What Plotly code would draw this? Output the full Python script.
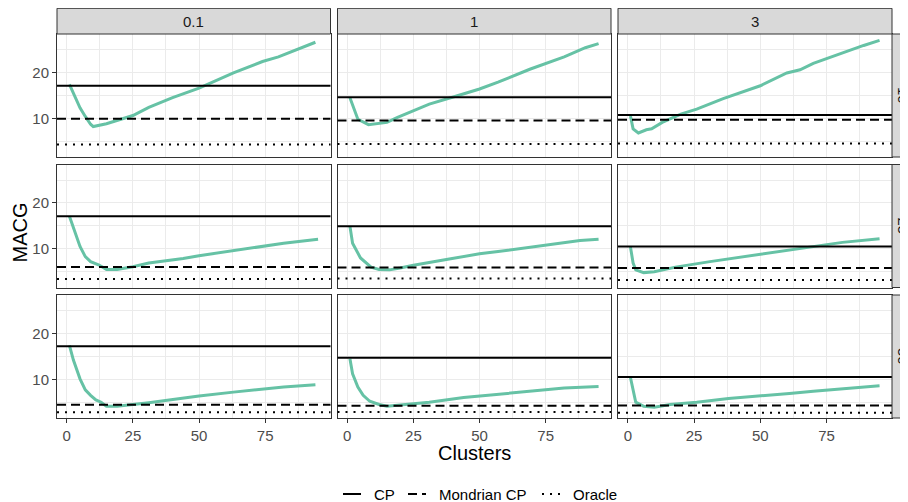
import plotly.graph_objects as go

# ---------------- data ----------------
col_labels = ["0.1", "1", "3"]
row_labels = ["10", "25", "50"]
x_ticks = [0, 25, 50, 75]
x_minor = [12.5, 37.5, 62.5, 87.5]
y_ticks = [10, 20]
y_minor = [5, 15, 25]

# clustered curves (MACG vs number of clusters), row = 10/25/50, col = 0.1/1/3
x_10_01 = [1, 3, 5, 7, 9, 10, 15, 25, 31, 40, 50, 63, 74, 80, 94]
y_10_01 = [17.4, 15.0, 12.3, 10.4, 8.7, 8.2, 8.8, 10.6, 12.4, 14.5, 16.6, 19.9, 22.4, 23.4, 26.6]
x_10_1 = [1, 4, 8, 15, 19, 31, 41, 50, 57, 69, 82, 90, 95]
y_10_1 = [14.5, 9.8, 8.6, 9.1, 10.2, 13.1, 14.8, 16.4, 17.9, 20.7, 23.4, 25.4, 26.3]
x_10_3 = [1, 2, 4, 7, 9, 13, 20, 26, 36, 50, 60, 65, 70, 80, 89, 95]
y_10_3 = [10.5, 7.7, 6.8, 7.5, 7.7, 9.1, 10.9, 12.0, 14.3, 17.1, 19.9, 20.6, 22.0, 24.1, 25.9, 27.0]

x_25_01 = [1, 3, 5, 7, 9, 12, 15, 19, 25, 31, 38, 44, 50, 63, 75, 82, 95]
y_25_01 = [17.1, 13.8, 10.5, 8.3, 7.2, 6.5, 5.5, 5.5, 6.1, 6.9, 7.4, 7.9, 8.5, 9.6, 10.7, 11.2, 12.1]
x_25_1 = [1, 2, 5, 9, 12, 16, 20, 25, 38, 50, 57, 66, 76, 88, 95]
y_25_1 = [14.9, 11.2, 8.0, 6.0, 5.5, 5.4, 5.8, 6.4, 7.7, 8.9, 9.4, 10.1, 10.9, 11.8, 12.1]
x_25_3 = [1, 2, 3, 6, 10, 18, 31, 44, 56, 69, 81, 95]
y_25_3 = [10.4, 6.9, 5.4, 4.8, 5.0, 6.0, 7.2, 8.3, 9.4, 10.4, 11.4, 12.2]

x_50_01 = [1, 2.5, 5, 7, 9, 11, 13, 15, 19, 25, 31, 38, 50, 63, 75, 82, 94]
y_50_01 = [17.4, 14.2, 10.1, 7.7, 6.5, 5.5, 5.0, 4.1, 4.1, 4.45, 4.9, 5.4, 6.35, 7.2, 7.9, 8.3, 8.8]
x_50_1 = [1, 2, 4, 6, 8.5, 12, 15, 19, 31, 44, 57, 69, 82, 95]
y_50_1 = [14.5, 11.2, 8.3, 6.5, 5.2, 4.5, 4.1, 4.3, 5.0, 6.0, 6.7, 7.4, 8.1, 8.4]
x_50_3 = [1, 2, 3, 6, 10, 16, 26, 38, 55, 61, 70, 83, 95]
y_50_3 = [10.4, 7.6, 5.0, 4.1, 3.9, 4.5, 5.0, 5.8, 6.5, 6.9, 7.4, 8.0, 8.6]

# reference levels per row (columns 0.1, 1, 3)
cp_10 = [17.1, 14.6, 10.7]
cp_25 = [17.1, 14.9, 10.5]
cp_50 = [17.2, 14.7, 10.5]
mondrian_10 = [9.9, 9.5, 9.7]
mondrian_25 = [6.05, 5.9, 5.8]
mondrian_50 = [4.45, 4.2, 4.3]
oracle_10 = [4.3, 4.4, 4.5]
oracle_25 = [3.4, 3.5, 3.2]
oracle_50 = [2.8, 2.85, 2.7]

legend_labels = ["CP", "Mondrian CP", "Oracle"]

# ---------------- layout helpers ----------------
curves = [
    [(x_10_01, y_10_01), (x_10_1, y_10_1), (x_10_3, y_10_3)],
    [(x_25_01, y_25_01), (x_25_1, y_25_1), (x_25_3, y_25_3)],
    [(x_50_01, y_50_01), (x_50_1, y_50_1), (x_50_3, y_50_3)],
]
cps = [cp_10, cp_25, cp_50]
mons = [mondrian_10, mondrian_25, mondrian_50]
oras = [oracle_10, oracle_25, oracle_50]

# the page body has an 8px margin, so the figure is 8px smaller and all
# window-pixel positions are shifted by that offset
OFF = 8
W, H = 908 - OFF, 502 - OFF
COL_PX = [(57, 330.5), (337.5, 611), (618, 892)]
ROW_PX = [(34, 157), (164.5, 287.5), (295, 418)]
STRIP_TOP = 8.3
RSTRIP = (892, 915)
XR = [-3.7, 99.7]
YR = [1.55, 28.4]
GREEN = "#66C2A5"
FONT = "Liberation Sans, Arial, sans-serif"
DASH = "9px,5px"
DOT = "2px,6px"


def px(x):
    return (x - OFF) / W


def py(y):
    return 1 - (y - OFF) / H


fig = go.Figure()
shapes = []
annotations = []
layout = {}

for r in range(3):
    for c in range(3):
        k = r * 3 + c + 1
        xs = "x" if k == 1 else f"x{k}"
        ys = "y" if k == 1 else f"y{k}"
        xa = "xaxis" if k == 1 else f"xaxis{k}"
        ya = "yaxis" if k == 1 else f"yaxis{k}"
        x0, x1 = COL_PX[c]
        t0, t1 = ROW_PX[r]
        bottom = r == 2
        left = c == 0
        layout[xa] = dict(
            domain=[px(x0), px(x1)], anchor=ys, range=XR,
            tickvals=x_ticks, ticktext=[str(v) for v in x_ticks],
            showticklabels=bottom, ticks="outside" if bottom else "",
            ticklen=4, tickwidth=1, tickcolor="#333333",
            tickfont=dict(family=FONT, size=15, color="#4D4D4D"),
            showgrid=True, gridcolor="#EBEBEB", gridwidth=1.1,
            minor=dict(tickvals=x_minor, showgrid=True, gridcolor="#EBEBEB", gridwidth=0.55),
            zeroline=False, showline=True, linecolor="#333333", linewidth=1, mirror=True,
        )
        layout[ya] = dict(
            domain=[py(t1), py(t0)], anchor=xs, range=YR,
            tickvals=y_ticks, ticktext=[str(v) for v in y_ticks],
            showticklabels=left, ticks="outside" if left else "",
            ticklen=4, tickwidth=1, tickcolor="#333333",
            tickfont=dict(family=FONT, size=15, color="#4D4D4D"),
            showgrid=True, gridcolor="#EBEBEB", gridwidth=1.1,
            minor=dict(tickvals=y_minor, showgrid=True, gridcolor="#EBEBEB", gridwidth=0.55),
            zeroline=False, showline=True, linecolor="#333333", linewidth=1, mirror=True,
        )
        # reference lines
        for val, dash in ((cps[r][c], "solid"), (mons[r][c], DASH), (oras[r][c], DOT)):
            shapes.append(dict(type="line", xref=f"{xs} domain", yref=ys, x0=0, x1=1,
                               y0=val, y1=val, line=dict(color="black", width=2, dash=dash),
                               layer="above"))
        cx, cy = curves[r][c]
        fig.add_trace(go.Scatter(x=cx, y=cy, xaxis=xs, yaxis=ys, mode="lines",
                                 line=dict(color=GREEN, width=3), showlegend=False,
                                 hoverinfo="skip"))

# strips
for c in range(3):
    x0, x1 = COL_PX[c]
    shapes.append(dict(type="rect", xref="paper", yref="paper", x0=px(x0), x1=px(x1),
                       y0=py(ROW_PX[0][0]), y1=py(STRIP_TOP), fillcolor="#D9D9D9",
                       line=dict(color="#333333", width=1)))
    annotations.append(dict(text=col_labels[c], xref="paper", yref="paper",
                            x=px((x0 + x1) / 2), y=py((STRIP_TOP + ROW_PX[0][0]) / 2),
                            showarrow=False, xanchor="center", yanchor="middle",
                            font=dict(family=FONT, size=15, color="#1A1A1A")))
for r in range(3):
    t0, t1 = ROW_PX[r]
    shapes.append(dict(type="rect", xref="paper", yref="paper", x0=px(RSTRIP[0]), x1=px(RSTRIP[1]),
                       y0=py(t1), y1=py(t0), fillcolor="#D9D9D9",
                       line=dict(color="#333333", width=1)))
    annotations.append(dict(text=row_labels[r], xref="paper", yref="paper",
                            x=px((RSTRIP[0] + RSTRIP[1]) / 2), y=py((t0 + t1) / 2),
                            showarrow=False, xanchor="center", yanchor="middle", textangle=90,
                            font=dict(family=FONT, size=15, color="#1A1A1A")))

# axis titles
annotations.append(dict(text="Clusters", xref="paper", yref="paper", x=px(474.5), y=py(453),
                        showarrow=False, xanchor="center", yanchor="middle",
                        font=dict(family=FONT, size=20, color="black")))
annotations.append(dict(text="MACG", xref="paper", yref="paper", x=px(19.5), y=py(233),
                        showarrow=False, xanchor="center", yanchor="middle", textangle=-90,
                        font=dict(family=FONT, size=20, color="black")))

# legend (drawn manually to mimic ggplot key)
LEG_Y = 494
leg_keys = [(343, 361, "solid", 372), (408, 426, DASH, 437), (542, 560, DOT, 571)]
for (a, b, dash, tx), lab in zip(leg_keys, legend_labels):
    shapes.append(dict(type="line", xref="paper", yref="paper", x0=px(a), x1=px(b),
                       y0=py(LEG_Y), y1=py(LEG_Y), line=dict(color="black", width=2, dash=dash)))
    annotations.append(dict(text=lab, xref="paper", yref="paper", x=px(tx), y=py(LEG_Y),
                            showarrow=False, xanchor="left", yanchor="middle",
                            font=dict(family=FONT, size=15, color="black")))

fig.update_layout(
    width=W, height=H, autosize=False,
    margin=dict(l=0, r=0, t=0, b=0),
    paper_bgcolor="white", plot_bgcolor="white",
    showlegend=False, shapes=shapes, annotations=annotations,
    **layout,
)

fig.write_html("out.html")
